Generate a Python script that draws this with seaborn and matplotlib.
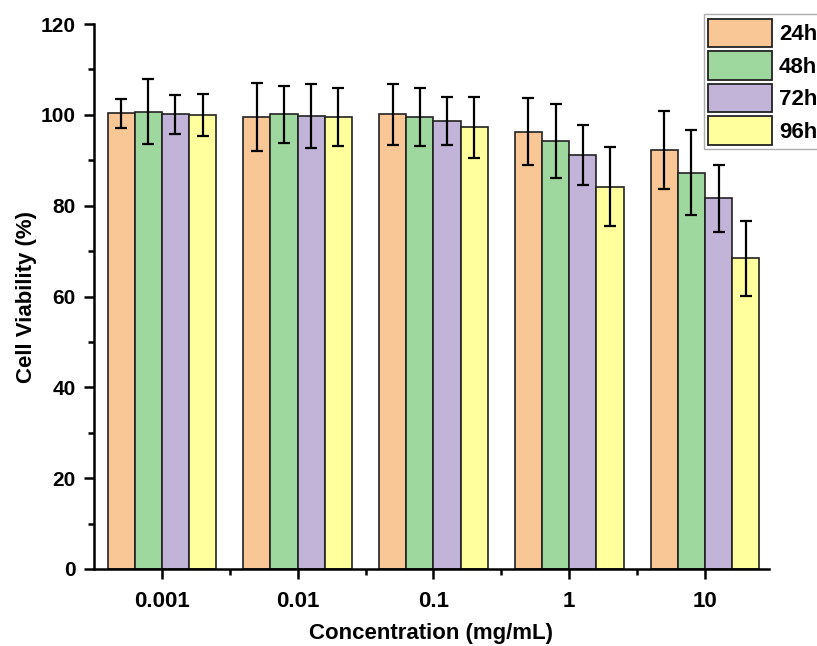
import matplotlib
matplotlib.use("Agg")
import matplotlib.pyplot as plt
from matplotlib.ticker import FixedLocator, MultipleLocator
import seaborn as sns
import pandas as pd

concentrations = ["0.001", "0.01", "0.1", "1", "10"]
times = ["24h", "48h", "72h", "96h"]

viability_24h = [100.3, 99.6, 100.1, 96.3, 92.2]
viability_48h = [100.7, 100.1, 99.6, 94.2, 87.3]
viability_72h = [100.1, 99.8, 98.6, 91.1, 81.6]
viability_96h = [100.0, 99.5, 97.3, 84.2, 68.4]

sd_24h = [3.3, 7.5, 6.7, 7.4, 8.6]
sd_48h = [7.1, 6.3, 6.4, 8.2, 9.4]
sd_72h = [4.3, 7.0, 5.3, 6.6, 7.3]
sd_96h = [4.7, 6.4, 6.7, 8.7, 8.3]

palette = ["#F9C796", "#9FD89E", "#C2B3D9", "#FFFF9D"]

means = [viability_24h, viability_48h, viability_72h, viability_96h]
sds = [sd_24h, sd_48h, sd_72h, sd_96h]

rows = []
for t, m, s in zip(times, means, sds):
    for c, v, e in zip(concentrations, m, s):
        rows.append({"Concentration": c, "Time": t, "Viability": v, "SD": e})
df = pd.DataFrame(rows)

sns.set_theme(style="ticks")
plt.rcParams["font.family"] = ["Liberation Sans", "DejaVu Sans"]
plt.rcParams["font.weight"] = "bold"
plt.rcParams["text.color"] = "black"
plt.rcParams["axes.labelcolor"] = "black"

fig = plt.figure(figsize=(8.17, 6.46), dpi=100)
ax = fig.add_axes([0.115, 0.1192, 0.826, 0.8436])

sns.barplot(data=df, x="Concentration", y="Viability", hue="Time",
            order=concentrations, hue_order=times, palette=palette,
            errorbar=None, width=0.8, saturation=1.0,
            edgecolor="#222222", linewidth=1.2, ax=ax)

# error bars on top of each bar, positioned from the drawn patches
bar_patches = [p for p in ax.patches if p.get_height() > 0][:len(times) * len(concentrations)]
k = 0
for ti, t in enumerate(times):
    for ci, c in enumerate(concentrations):
        p = bar_patches[k]
        k += 1
        xc = p.get_x() + p.get_width() / 2
        ax.errorbar(xc, means[ti][ci], yerr=sds[ti][ci], fmt="none",
                    ecolor="black", elinewidth=1.6, capsize=4.5,
                    capthick=1.6, zorder=5)

ax.set_ylim(0, 120)
ax.set_xlim(-0.5, 4.47)
ax.yaxis.set_major_locator(MultipleLocator(20))
ax.yaxis.set_minor_locator(MultipleLocator(10))
ax.xaxis.set_minor_locator(FixedLocator([0.5, 1.5, 2.5, 3.5]))

sns.despine(ax=ax)
for side in ["left", "bottom"]:
    ax.spines[side].set_linewidth(1.8)
    ax.spines[side].set_color("black")

ax.tick_params(axis="both", which="major", length=7, width=1.8,
               color="black", labelcolor="black", direction="out")
ax.tick_params(axis="both", which="minor", length=4.5, width=1.8,
               color="black", direction="out")
ax.tick_params(axis="x", which="major", pad=9, labelsize=16)
ax.tick_params(axis="y", which="major", pad=6, labelsize=15)
for lab in ax.get_xticklabels() + ax.get_yticklabels():
    lab.set_fontweight("bold")

ax.set_xlabel("Concentration (mg/mL)", fontsize=16, fontweight="bold",
              labelpad=8, color="black")
ax.set_ylabel("Cell Viability (%)", fontsize=16, fontweight="bold",
              labelpad=3, color="black")

leg = ax.legend(loc="upper right", bbox_to_anchor=(1.006, 0.978),
                bbox_transform=fig.transFigure, title=None,
                fontsize=16, frameon=True, fancybox=False,
                handlelength=2.9, handleheight=1.6, handletextpad=0.3,
                labelspacing=0.18, borderpad=0.2, borderaxespad=0.0)
leg.get_frame().set_edgecolor("#999999")
leg.get_frame().set_linewidth(1.0)
for txt in leg.get_texts():
    txt.set_fontweight("bold")
    txt.set_color("black")
for h in leg.legend_handles:
    h.set_edgecolor("#222222")
    h.set_linewidth(1.3)

fig.savefig("out.png", dpi=100)
